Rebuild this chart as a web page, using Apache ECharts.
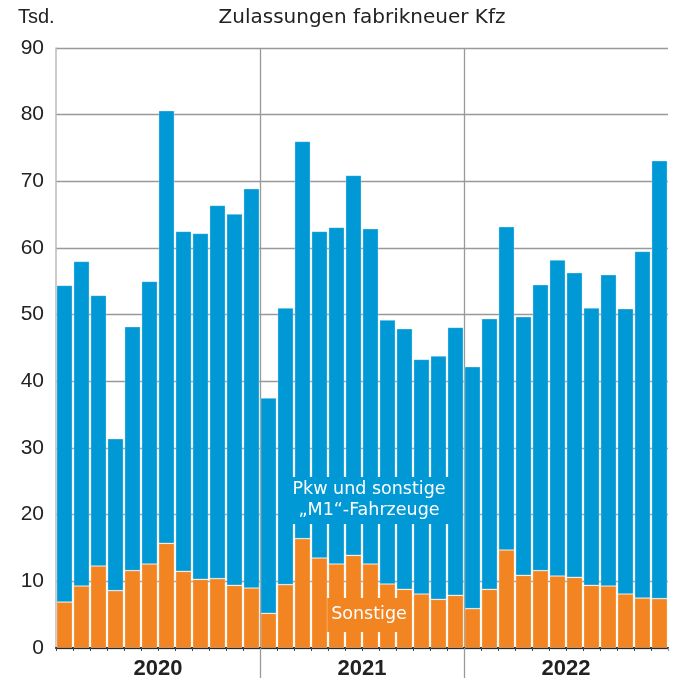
<!DOCTYPE html>
<html><head><meta charset="utf-8">
<script src="https://cdn.jsdelivr.net/npm/echarts@6/dist/echarts.min.js"></script>
<style>html,body{margin:0;padding:0;background:#fff}#c{width:679px;height:686px}</style>
</head><body><div id="c"></div>
<script>
const months = [];
['2020','2021','2022'].forEach(y=>{for(let m=1;m<=12;m++)months.push(y+'-'+(m<10?'0'+m:m));});
const years = ['2020','2021','2022'];
const totals = [54.4,58.0,52.9,31.4,48.2,55.0,80.6,62.5,62.2,66.4,65.1,68.9,
                37.5,51.0,76.0,62.5,63.1,70.9,62.9,49.2,47.9,43.3,43.8,48.1,
                42.2,49.4,63.2,49.7,54.5,58.2,56.3,51.0,56.0,50.9,59.5,73.1];
const sonstige = [6.9,9.3,12.3,8.6,11.6,12.6,15.7,11.5,10.3,10.4,9.4,9.0,
                  5.2,9.5,16.4,13.5,12.6,13.9,12.6,9.6,8.8,8.1,7.3,7.9,
                  5.9,8.8,14.7,10.9,11.6,10.8,10.6,9.4,9.3,8.1,7.5,7.4];
const pkw = totals.map((t,i)=>+(t - sonstige[i]).toFixed(1));
const yTicks = [0,10,20,30,40,50,60,70,80,90];

const FONT = 'Liberation Sans';
const WFONT = 'DejaVu Sans';
const chart = echarts.init(document.getElementById('c'));
chart.setOption({
  animation:false,
  textStyle:{fontFamily:FONT},
  grid:{left:56,right:11,top:48,bottom:38},
  xAxis:[{
    type:'category', data:months, position:'bottom',
    axisLine:{show:true,lineStyle:{color:'#222',width:2}},
    axisTick:{show:true,interval:0,length:3,lineStyle:{color:'#444',width:1}},
    axisLabel:{show:false}, splitLine:{show:false}
  },{
    type:'category', data:years, position:'bottom',
    axisLine:{show:false},
    axisTick:{show:true,length:30,interval:(i)=>i===1||i===2,lineStyle:{color:'#999',width:1.3}},
    axisLabel:{show:true,margin:10,fontSize:22,fontWeight:'bold',color:'#222',fontFamily:FONT},
    splitLine:{show:true,showMinLine:false,showMaxLine:false,lineStyle:{color:'#999',width:1.3}}
  }],
  yAxis:{
    type:'value', min:0, max:90, interval:10,
    axisLine:{show:true,lineStyle:{color:'#bbb',width:1.5}},
    axisTick:{show:false},
    axisLabel:{fontSize:21,color:'#222',margin:12,fontFamily:FONT,
      formatter:(v)=>yTicks.includes(v)?String(v):''},
    splitLine:{show:true,lineStyle:{color:'#999',width:1.3}}
  },
  series:[{
    name:'Sonstige', type:'bar', stack:'a', data:sonstige, xAxisIndex:0,
    barCategoryGap:'7%',
    itemStyle:{color:'#F28522',borderColor:'rgba(255,255,255,0.4)',borderWidth:0.7}
  },{
    name:'Pkw und sonstige „M1“-Fahrzeuge', type:'bar', stack:'a', data:pkw, xAxisIndex:0,
    barCategoryGap:'7%',
    itemStyle:{color:'#0099D6',borderColor:'rgba(255,255,255,0.4)',borderWidth:0.7}
  }],
  graphic:[
    {type:'rect',shape:{x:664,y:651,width:15,height:35},style:{fill:'#fff'},z:100},
    {type:'text',left:18,top:7,style:{text:'Tsd.',fontSize:20,fill:'#222',fontFamily:FONT}},
    {type:'text',x:362,y:8,style:{text:'Zulassungen fabrikneuer Kfz',fontSize:20,fill:'#222',fontFamily:WFONT,align:'center'}},
    {type:'text',x:369,y:477,z:100,style:{text:'Pkw und sonstige\n„M1“-Fahrzeuge',fontSize:17.5,lineHeight:21,fill:'#fff',
      fontFamily:WFONT,align:'center',backgroundColor:'#0099D6',padding:[2,6,3,6]}},
    {type:'text',x:369,y:598,z:100,style:{text:'Sonstige',fontSize:17.5,lineHeight:21,fill:'#fff',
      fontFamily:WFONT,align:'center',backgroundColor:'#F28522',padding:[6,4,7,4]}}
  ]
});
</script></body></html>
